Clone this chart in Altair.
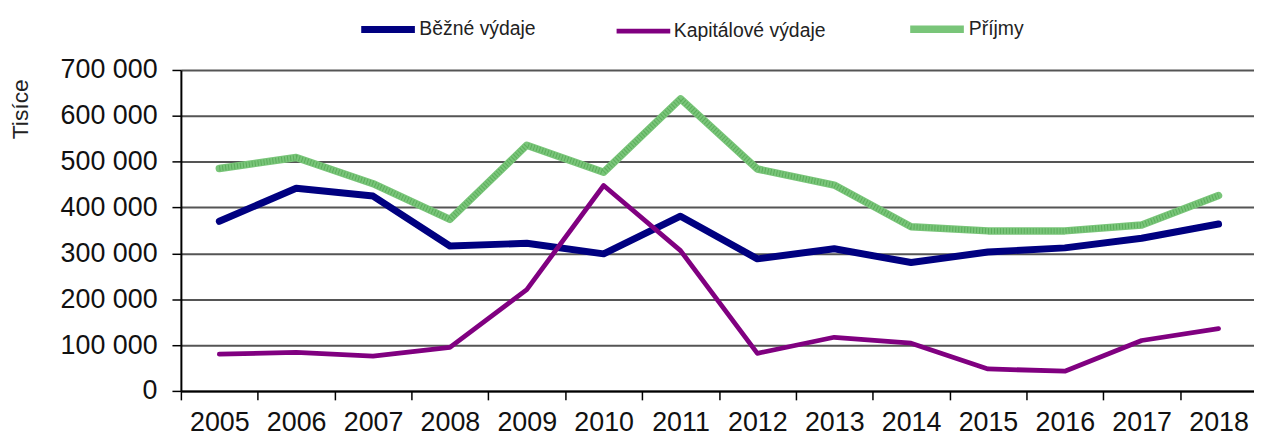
import altair as alt
import pandas as pd

years = ["2005", "2006", "2007", "2008", "2009", "2010", "2011",
         "2012", "2013", "2014", "2015", "2016", "2017", "2018"]
series = ["Běžné výdaje", "Kapitálové výdaje", "Příjmy"]
bezne = [370000, 442000, 425000, 316000, 322000, 299000, 381000,
         288000, 310000, 280000, 303000, 312000, 333000, 364000]
kapitalove = [80000, 84000, 76000, 95000, 221000, 448000, 306000,
              82000, 117000, 104000, 48000, 43000, 110000, 136000]
prijmy = [485000, 509000, 452000, 374000, 536000, 477000, 637000,
          484000, 449000, 358000, 349000, 349000, 362000, 426000]
y_ticks = [0, 100000, 200000, 300000, 400000, 500000, 600000, 700000]
colors = ["#000080", "#800080", "#79c579"]
widths = [7, 4.8, 7.5]

rows = []
for name, vals in zip(series, [bezne, kapitalove, prijmy]):
    for i, (yr, v) in enumerate(zip(years, vals)):
        rows.append({"year": yr, "value": v, "series": name, "idx": i})
df = pd.DataFrame(rows)

legend = alt.Legend(
    title=None, orient="none", direction="horizontal",
    legendX=178, legendY=-72,
    symbolType="stroke", symbolSize=2916,
    labelFont="Liberation Sans", labelFontSize=19.5, labelColor="#222222",
    labelOffset=1, labelLimit=500,
    columnPadding=70,
)

x_enc = alt.X("year:O", bandPosition=0.5,
              scale=alt.Scale(type="band", paddingInner=0, paddingOuter=0, range=[0, 1083]),
              axis=alt.Axis(title=None, tickBand="extent", labelAngle=0, labelPadding=10,
                            grid=False))
y_enc = alt.Y("value:Q", scale=alt.Scale(domain=[0, 700000], nice=False),
              axis=alt.Axis(values=y_ticks, title="Tisíce", grid=True,
                            labelExpr="replace(format(datum.value, ','), ',', ' ')",
                            labelPadding=15,
                            titleAngle=-90, titleX=-161, titleY=39,
                            titleAlign="center", titleBaseline="middle"))

lines = alt.Chart(df).mark_line(strokeJoin="round", strokeCap="round").encode(
    x=x_enc, y=y_enc,
    color=alt.Color("series:N", scale=alt.Scale(domain=series, range=colors), legend=legend),
    strokeWidth=alt.StrokeWidth("series:N",
                                scale=alt.Scale(type="ordinal", domain=series, range=widths),
                                legend=legend),
    order="idx:Q",
)

texture = alt.Chart(df).transform_filter(
    alt.datum.series == "Příjmy"
).mark_line(strokeJoin="round", strokeDash=[1, 2], strokeWidth=5.5,
            color="#3f973f", opacity=0.5).encode(
    x=x_enc, y=y_enc, order="idx:Q",
)

chart = alt.layer(lines, texture).properties(
    width=1080, height=323,
    autosize=alt.AutoSizeParams(type="none"),
    padding={"left": 174, "top": 61, "right": 0, "bottom": 44},
).configure_view(stroke=None).configure_axis(
    domainColor="#000000", domainWidth=2,
    tickColor="#000000", tickWidth=1.5, tickSize=9,
    labelFont="Liberation Sans", labelFontSize=27, labelColor="#111111",
    gridColor="#555555", gridWidth=2,
    titleFont="Liberation Sans", titleFontSize=23, titleFontWeight="normal",
    titleColor="#222222",
)

chart.save("out.html", embed_options={"renderer": "svg", "actions": False})
